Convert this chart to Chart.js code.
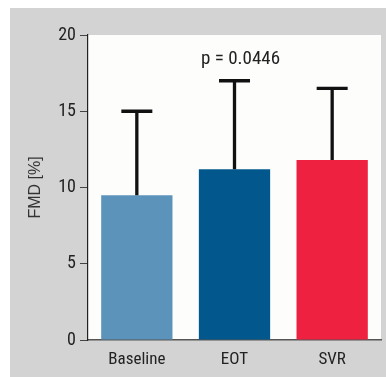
<!DOCTYPE html>
<html>
<head>
<meta charset="utf-8">
<script src="https://cdn.jsdelivr.net/npm/chart.js@4.4.1/dist/chart.umd.min.js"></script>
<style>
  html, body { margin: 0; padding: 0; background: #fff; }
  #wrap { width: 386px; height: 377px; }
</style>
</head>
<body>
<div id="wrap"><canvas id="fmd"></canvas></div>
<script>
// data
const categories = ['Baseline', 'EOT', 'SVR'];
const fmdMean = [9.5, 11.2, 11.8];
const fmdUpper = [15.0, 17.0, 16.5];
const barColors = ['#5b93bb', '#02588c', '#ee2140'];
const yTicks = [0, 5, 10, 15, 20];
const pLabel = 'p = 0.0446';
const pLabelValue = 18.4;

const FONT = '"Liberation Sans Narrow", "Roboto Condensed", "DejaVu Sans Condensed", sans-serif';
const TITLE_FONT = '"Liberation Sans", Arial, sans-serif';

// grey panel + white plot area
const panel = {
    id: 'panel',
    beforeDraw(chart) {
        const {ctx, chartArea: a, width, height} = chart;
        ctx.save();
        ctx.fillStyle = '#d2d3d2';
        ctx.fillRect(10, 8, width - 10, height - 8);
        ctx.fillStyle = '#fdfdfc';
        ctx.fillRect(a.left, a.top, a.right - a.left, a.bottom - a.top);
        ctx.restore();
    }
};

// upper error whiskers and the p value
const whiskers = {
    id: 'whiskers',
    afterDatasetsDraw(chart) {
        const {ctx} = chart;
        const y = chart.scales.y;
        const bars = chart.getDatasetMeta(0).data;
        ctx.save();
        ctx.strokeStyle = '#111';
        ctx.lineWidth = 3.3;
        bars.forEach((bar, i) => {
            const top = y.getPixelForValue(fmdUpper[i]);
            ctx.beginPath();
            ctx.moveTo(bar.x, bar.y);
            ctx.lineTo(bar.x, top);
            ctx.moveTo(bar.x - 15.5, top);
            ctx.lineTo(bar.x + 15.5, top);
            ctx.stroke();
        });
        ctx.fillStyle = '#222';
        ctx.font = '19px ' + FONT;
        ctx.textAlign = 'center';
        ctx.textBaseline = 'middle';
        ctx.fillText(pLabel, bars[1].x + 6, y.getPixelForValue(pLabelValue));
        ctx.restore();
    }
};

new Chart(document.getElementById('fmd'), {
    type: 'bar',
    data: {
        labels: categories,
        datasets: [{
            data: fmdMean,
            backgroundColor: barColors,
            borderWidth: 0,
            categoryPercentage: 1,
            barPercentage: 0.73
        }]
    },
    options: {
        responsive: true,
        maintainAspectRatio: false,
        animation: false,
        layout: {padding: {top: 35, right: 5, left: 0, bottom: 0}},
        plugins: {
            legend: {display: false},
            tooltip: {enabled: false}
        },
        scales: {
            x: {
                grid: {display: false, drawTicks: false},
                border: {color: '#555', width: 1.5},
                ticks: {color: '#222', font: {family: FONT, size: 17}, padding: 10},
                afterFit(s) { s.height = 37; }
            },
            y: {
                min: 0,
                max: 20,
                afterBuildTicks(s) { s.ticks = yTicks.map(v => ({value: v})); },
                grid: {drawOnChartArea: false, tickLength: 8, tickColor: '#444', tickWidth: 1},
                border: {color: '#222', width: 1.2},
                ticks: {color: '#222', font: {family: FONT, size: 18}, padding: 4},
                title: {
                    display: true,
                    text: 'FMD [%]',
                    color: '#333',
                    font: {family: TITLE_FONT, size: 16},
                    padding: {top: 26, bottom: 0}
                },
                afterFit(s) { s.width = 88; }
            }
        }
    },
    plugins: [panel, whiskers]
});
</script>
</body>
</html>
